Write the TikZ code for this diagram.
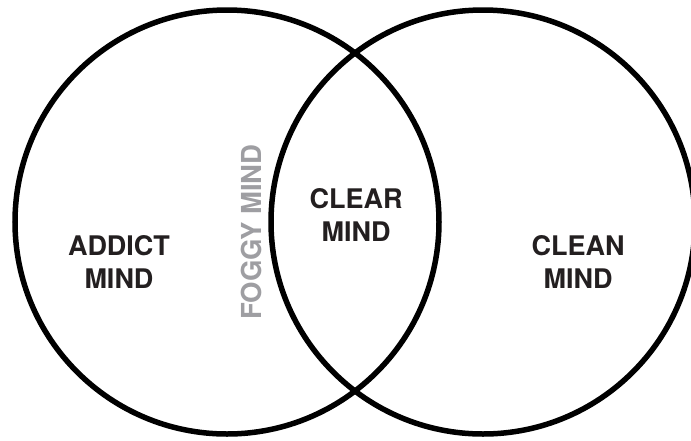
\documentclass[tikz,border=0pt]{standalone}
\usepackage{fontspec}
\setmainfont{TeX Gyre Heros}
\definecolor{inkblack}{HTML}{231F20}
\definecolor{foggray}{RGB}{158,158,162}
\begin{document}
\begin{tikzpicture}[x=1pt,y=-1pt,
  ring/.style={circle,draw=black,line width=5.5pt,minimum size=424pt,inner sep=0pt},
  label/.style={align=center,text=inkblack,font=\fontsize{27}{33}\selectfont\bfseries,inner sep=0pt},
  foglabel/.style={text=foggray,font=\fontsize{27.5}{33}\selectfont\bfseries,inner sep=0pt,rotate=90}]
\useasboundingbox (0,0) rectangle (691,440);
\fill[white] (0,0) rectangle (691,440);
\node[ring] (left) at (227,222) {};
\node[ring] (right) at (483,222) {};
\node[label] (addict) at (119,262) {ADDICT\\MIND};
\node[label] (clear) at (356,214.5) {CLEAR\\MIND};
\node[label] (clean) at (578,262) {CLEAN\\MIND};
\node[foglabel] (foggy) at (251,232) {FOGGY MIND};
\end{tikzpicture}
\end{document}
